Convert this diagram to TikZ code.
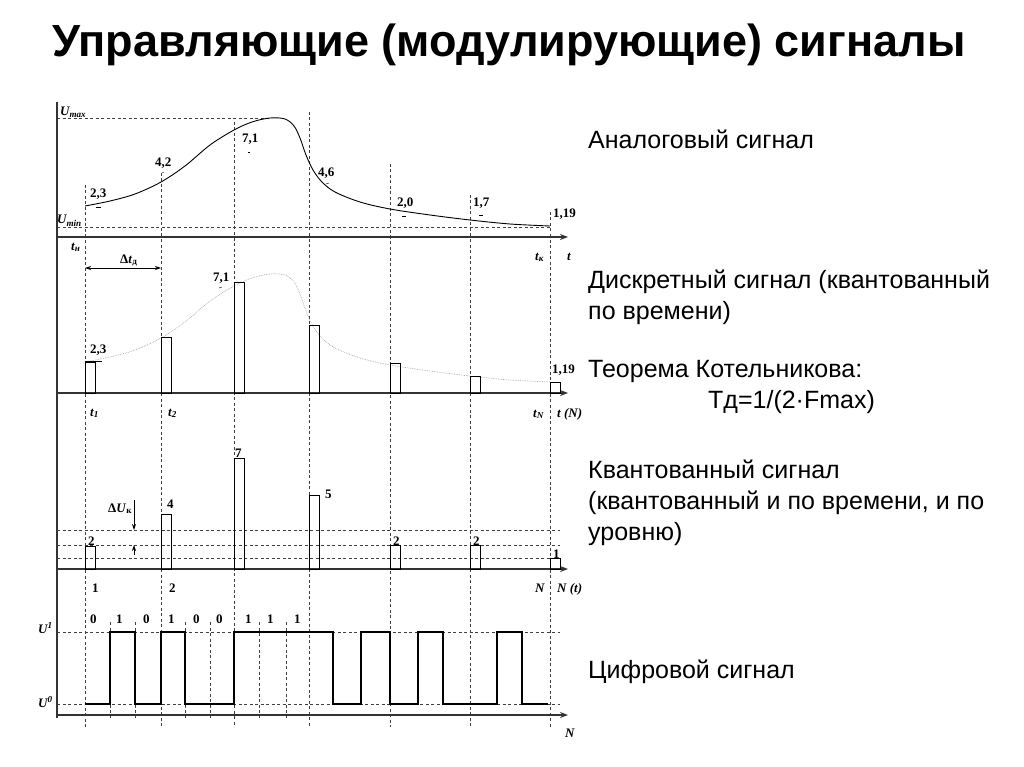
\documentclass[tikz,border=0pt]{standalone}
\usepackage{fontspec}
\setmainfont{Liberation Serif}
\newfontfamily\arialfont[WordSpace=1.5]{Liberation Sans}
\newfontfamily\titlefont{Liberation Sans}
\usetikzlibrary{arrows.meta}

\begin{document}
\begin{tikzpicture}[x=1pt,y=-1pt,
  axis/.style={line width=1.3pt,draw=black!80},
  axisarrow/.style={axis,-{Stealth[length=8pt,width=6pt]}},
  gridline/.style={line width=0.8pt,draw=black!75,dash pattern=on 3pt off 2.5pt},
  bar/.style={line width=0.8pt,draw=black},
  lbl/.style={anchor=base west,font=\bfseries\fontsize{13}{15}\selectfont,inner sep=0pt},
  var/.style={anchor=base west,font=\bfseries\itshape\fontsize{13}{15}\selectfont,inner sep=0pt},
  note/.style={anchor=base west,font=\arialfont\fontsize{25}{31}\selectfont,inner sep=0pt}]
\useasboundingbox (0,0) rectangle (1024,767);
\node[font=\titlefont\bfseries\fontsize{45}{52}\selectfont,anchor=base,inner sep=0pt] (title) at (509,57) {Управляющие (модулирующие) сигналы};

\draw[gridline] (85,185) -- (85,727);
\draw[gridline] (161,173) -- (161,727);
\draw[gridline] (234,122) -- (234,727);
\draw[gridline] (309,112) -- (309,727);
\draw[gridline] (390,164) -- (390,727);
\draw[gridline] (470,195) -- (470,727);
\draw[gridline] (550,212) -- (550,727);
\draw[gridline] (57,118) -- (270,118);
\draw[gridline] (57,227) -- (550,227);

\draw[axis] (57,102) -- (57,718);
\draw[axisarrow] (57,237) -- (568,237);
\draw[axisarrow] (57,393) -- (568,393);
\draw[axisarrow] (57,569) -- (568,569);
\draw[axisarrow] (57,715) -- (568,715);

\draw[line width=0.9pt] plot[smooth,tension=0.55] coordinates {(85,206) (110,201) (135,194) (161,182) (185,166) (210,145) (234,130) (252,122) (270,118) (285,119) (294,126) (300,138) (306,155) (313,170) (322,182) (335,192) (360,202) (390,209) (430,215) (470,220) (510,224) (550,226)};
\node[var] (umax) at (60,116) {U\textsubscript{max}};
\node[var] (umin) at (57,224) {U\textsubscript{min}};
\node[var] (tstart) at (71,250) {t\textsubscript{н}};
\node[var] (tend) at (535,260) {t\textsubscript{к}};
\node[var] (taxis) at (567,260) {t};
\node[lbl] (a1) at (90,198) {2,3};
\node[lbl] (a2) at (155,167) {4,2};
\node[lbl] (a3) at (242,143) {7,1};
\node[lbl] (a4) at (318,177) {4,6};
\node[lbl] (a5) at (397,207) {2,0};
\node[lbl] (a6) at (473,207) {1,7};
\node[lbl] (a7) at (553,218) {1,19};
\draw (96,207) -- (101,207);
\draw (162,173) -- (164,172);
\draw (248,152) -- (250,152);
\draw (326,184) -- (329,183);
\draw (402,216) -- (406,216);
\draw (479,215) -- (483,215);

\node[lbl] (dt) at (120,263) {Δ\textit{t}\textsubscript{д}};
\draw[{Stealth[length=6pt,width=4pt]}-{Stealth[length=6pt,width=4pt]},line width=0.8pt] (85,268) -- (161,268);

\begin{scope}[shift={(0,156)}]
\draw[gray!70,line width=0.7pt,densely dotted] plot[smooth,tension=0.55] coordinates {(85,206) (110,201) (135,194) (161,182) (185,166) (210,145) (234,130) (252,122) (270,118) (285,119) (294,126) (300,138) (306,155) (313,170) (322,182) (335,192) (360,202) (390,209) (430,215) (470,220) (510,224) (550,226)};
\end{scope}
\draw[bar] (85,393) rectangle (95,362);
\draw[bar] (161,393) rectangle (171,337);
\draw[bar] (234,393) rectangle (244,282);
\draw[bar] (309,393) rectangle (319,325);
\draw[bar] (390,393) rectangle (400,363);
\draw[bar] (470,393) rectangle (480,376);
\draw[bar] (550,393) rectangle (560,382);
\draw (85,361) -- (102,361);
\draw (219,288) -- (222,287);
\node[lbl] (d1) at (90,353) {2,3};
\node[lbl] (d3) at (213,281) {7,1};
\node[lbl] (d7) at (552,373) {1,19};
\node[var] (t1) at (90,416) {t\textsubscript{1}};
\node[var] (t2) at (168,416) {t\textsubscript{2}};
\node[var] (tn) at (533,417) {t\textsubscript{N}};
\node[var] (tnaxis) at (557,417) {t (N)};

\draw[gridline] (57,530) -- (560,530);
\draw[gridline] (57,545) -- (560,545);
\draw[gridline] (57,558) -- (560,558);
\draw[bar] (85,569) rectangle (95,546);
\draw[bar] (161,569) rectangle (171,514);
\draw[bar] (234,569) rectangle (244,458);
\draw[bar] (309,569) rectangle (319,495);
\draw[bar] (390,569) rectangle (400,545);
\draw[bar] (470,569) rectangle (480,545);
\draw[bar] (550,569) rectangle (560,558);
\node[lbl] (q1) at (88,545) {2};
\node[lbl] (q2) at (167,508) {4};
\node[lbl] (q3) at (235,457) {7};
\node[lbl] (q4) at (325,498) {5};
\node[lbl] (q5) at (393,545) {2};
\node[lbl] (q6) at (473,545) {2};
\node[lbl] (q7) at (553,558) {1};
\node[lbl] (du) at (108,512) {Δ\textit{U}\textsubscript{к}};
\draw[-{Stealth[length=6pt,width=4pt]},line width=0.8pt] (134,500) -- (134,530);
\draw[-{Stealth[length=6pt,width=4pt]},line width=0.8pt] (134,555) -- (134,545);
\node[lbl] (n1) at (92,592) {1};
\node[lbl] (n2) at (169,592) {2};
\node[var] (nn) at (535,592) {N};
\node[var] (naxis) at (557,592) {N (t)};

\draw[gridline] (110,622) -- (110,718);
\draw[gridline] (135,622) -- (135,718);
\draw[gridline] (185,622) -- (185,718);
\draw[gridline] (210,622) -- (210,718);
\draw[gridline] (259,622) -- (259,718);
\draw[gridline] (286,622) -- (286,718);
\draw[gridline] (57,632) -- (560,632);
\draw[gridline] (57,704) -- (560,704);
\draw[line width=1.8pt,line join=miter] (85,704) -- (110,704) -- (110,632) -- (135,632) -- (135,704) -- (161,704) -- (161,632) -- (185,632) -- (185,704) -- (234,704) -- (234,632) -- (333,632) -- (333,704) -- (361,704) -- (361,632) -- (390,632) -- (390,704) -- (418,704) -- (418,632) -- (443,632) -- (443,704) -- (497,704) -- (497,632) -- (522,632) -- (522,704) -- (548,704);
\node[lbl] (b1) at (90,623) {0};
\node[lbl] (b2) at (116,623) {1};
\node[lbl] (b3) at (143,623) {0};
\node[lbl] (b4) at (168,623) {1};
\node[lbl] (b5) at (193,623) {0};
\node[lbl] (b6) at (216,623) {0};
\node[lbl] (b7) at (245,623) {1};
\node[lbl] (b8) at (267,623) {1};
\node[lbl] (b9) at (294,623) {1};
\node[var] (uone) at (38,633) {U\textsuperscript{1}};
\node[var] (uzero) at (38,707) {U\textsuperscript{0}};
\node[var] (ndig) at (565,737) {N};

\node[note] (analog) at (588,149) {Аналоговый сигнал};
\node[note] (discrete) at (588,288) {Дискретный сигнал (квантованный};
\node[note] (discrete2) at (588,319) {по времени)};
\node[note] (theorem) at (588,377) {Теорема Котельникова:};
\node[note] (formula) at (708,408) {Тд=1/(2·Fmax)};
\node[note] (quant) at (588,478) {Квантованный сигнал};
\node[note] (quant2) at (588,509) {(квантованный и по времени, и по};
\node[note] (quant3) at (588,540) {уровню)};
\node[note] (digital) at (588,678) {Цифровой сигнал};
\end{tikzpicture}
\end{document}
